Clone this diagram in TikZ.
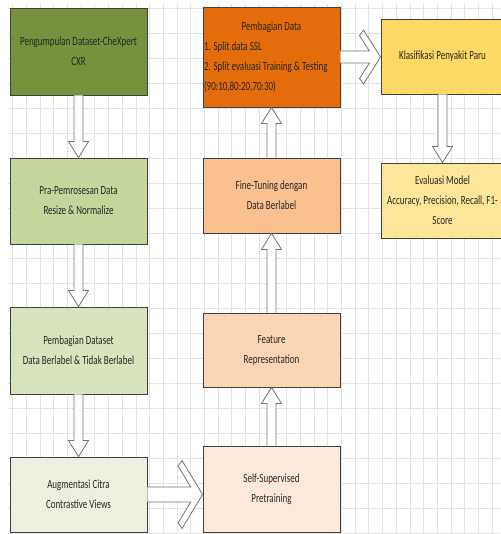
\documentclass[tikz,border=0pt]{standalone}
\usepackage{fontspec}
\setmainfont{Carlito}[FakeStretch=0.72]
\usetikzlibrary{calc}
\definecolor{oliveDark}{HTML}{76923C}
\definecolor{oliveMid}{HTML}{C3D69B}
\definecolor{oliveLight}{HTML}{D7E4BD}
\definecolor{olivePale}{HTML}{EBF1DE}
\definecolor{orangeDark}{HTML}{E46C0A}
\definecolor{orangeMid}{HTML}{FAC090}
\definecolor{orangeLight}{HTML}{FCD5B5}
\definecolor{orangePale}{HTML}{FDE9D9}
\definecolor{goldMid}{HTML}{FFD966}
\definecolor{goldLight}{HTML}{FFE699}

\begin{document}
\begin{tikzpicture}[x=1pt,y=-1pt,
  box/.style={draw=black!75,line width=0.9pt,minimum width=137pt,inner sep=1pt,align=center,text=black!85,font=\fontsize{12.5}{20}\selectfont},
  gridline/.style={draw=black!11,line width=0.6pt},
  blockline/.style={draw=black!55,fill=white,line width=0.8pt},
  downblock/.style={blockline,to path={let \p1=(\tikztostart), \p2=(\tikztotarget) in
    (\x1-4.5pt,\y1) -- (\x1-4.5pt,\y2+16pt) -- (\x1-10pt,\y2+16pt) -- (\x1,\y2)
    -- (\x1+10pt,\y2+16pt) -- (\x1+4.5pt,\y2+16pt) -- (\x1+4.5pt,\y1)}},
  upblock/.style={blockline,to path={let \p1=(\tikztostart), \p2=(\tikztotarget) in
    (\x1-4.5pt,\y1) -- (\x1-4.5pt,\y2-16pt) -- (\x1-10pt,\y2-16pt) -- (\x1,\y2)
    -- (\x1+10pt,\y2-16pt) -- (\x1+4.5pt,\y2-16pt) -- (\x1+4.5pt,\y1)}},
  rblock/.style n args={3}{blockline,to path={let \p1=(\tikztostart), \p2=(\tikztotarget),
    \n1={\x2-#3-4pt+(#2-5.5pt-#1)*#3/#2} in
    (\x1,\y1+#1) -- (\n1,\y1+#1) -- (\x2-#3-4pt,\y1+#2-5.5pt) -- (\x2-#3,\y1+#2) -- (\x2,\y1)
    -- (\x2-#3,\y1-#2) -- (\x2-#3-4pt,\y1-#2+5.5pt) -- (\n1,\y1-#1) -- (\x1,\y1-#1)}}]
  \useasboundingbox (0,0) rectangle (500,534);

  % sheet grid
  \foreach \gx in {12.5,26.2,...,500} \draw[gridline] (\gx,4) -- (\gx,534);
  \foreach \gy in {8,33,...,534} \draw[gridline] (8,\gy) -- (500,\gy);

  % left column
  \node[box,fill=oliveDark,minimum height=87pt] (collect) at (78.5,51.5) {Pengumpulan Dataset-CheXpert\\CXR};
  \node[box,fill=oliveMid,minimum height=86pt] (prep) at (78.5,201) {Pra-Pemrosesan Data\\Resize \& Normalize};
  \node[box,fill=oliveLight,minimum height=87pt] (splitds) at (78.5,350.5) {Pembagian Dataset\\Data Berlabel \& Tidak Berlabel};
  \node[box,fill=olivePale,minimum height=75pt] (augment) at (78.5,494.5) {Augmentasi Citra\\Contrastive Views};

  % middle column
  \node[box,fill=orangePale,minimum height=86pt] (ssl) at (271.5,489) {Self-Supervised\\Pretraining};
  \node[box,fill=orangeLight,minimum height=74pt] (feature) at (271.5,350) {Feature\\Representation};
  \node[box,fill=orangeMid,minimum height=75pt] (finetune) at (271.5,195.5) {Fine-Tuning dengan\\Data Berlabel};
  \node[box,fill=orangeDark,minimum height=100pt,text width=135pt,align=flush left] (splitdata) at (271.5,57)
    {\makebox[135pt]{Pembagian Data}\\1. Split data SSL\\2. Split evaluasi Training \& Testing\\(90:10,80:20,70:30)};

  % right column
  \node[box,fill=goldMid,minimum width=123pt,minimum height=75pt] (classify) at (442.5,56.5) {Klasifikasi Penyakit Paru};
  \node[box,fill=goldLight,minimum width=123pt,minimum height=75pt] (evaluate) at (442.5,200.5) {Evaluasi Model\\Accuracy, Precision, Recall, F1-\\Score};

  % block arrows
  \draw[downblock] (collect.south) to (prep.north);
  \draw[downblock] (prep.south) to (splitds.north);
  \draw[downblock] (splitds.south) to (augment.north);
  \draw[rblock={7.5pt}{34pt}{20.5pt}] (augment.east) to (ssl.west);
  \draw[upblock] (ssl.north) to (feature.south);
  \draw[upblock] (feature.north) to (finetune.south);
  \draw[upblock] (finetune.north) to (splitdata.south);
  \draw[rblock={6pt}{27pt}{17pt}] (splitdata.east) to (classify.west);
  \draw[downblock] (classify.south) to (evaluate.north);
\end{tikzpicture}
\end{document}
